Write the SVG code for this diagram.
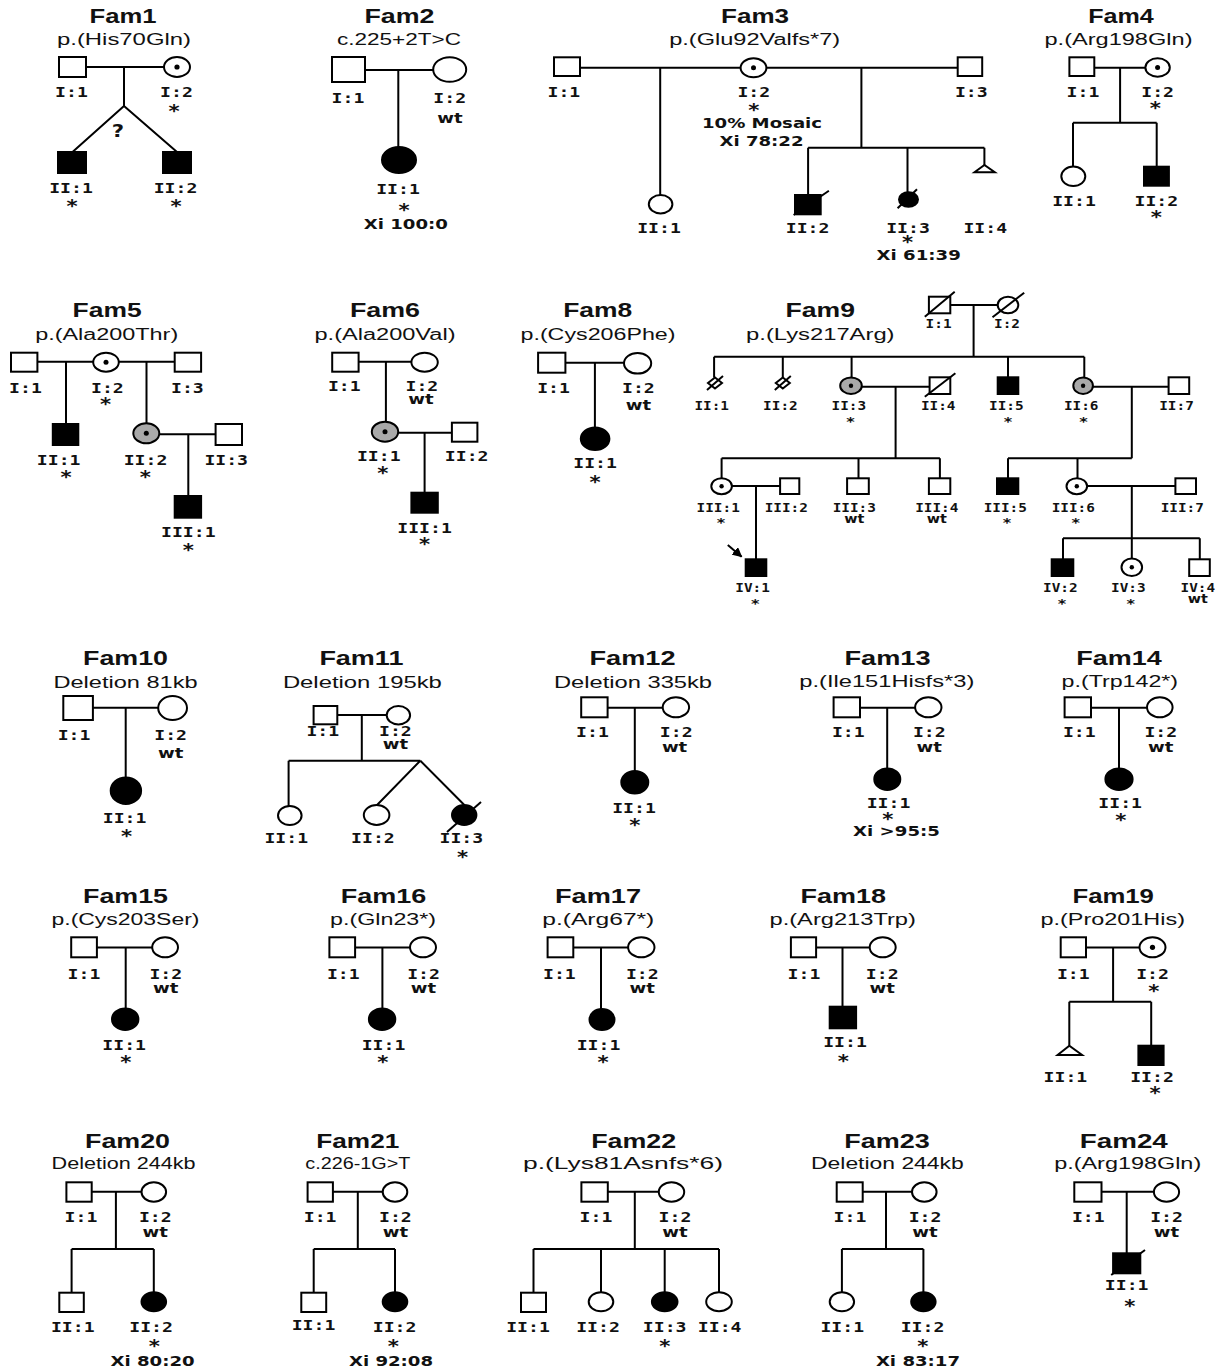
<svg xmlns="http://www.w3.org/2000/svg" width="1229" height="1369" viewBox="0 0 1229 1369">
<style>
.ln{stroke:#000;stroke-width:2;fill:none}
.o{fill:#fff;stroke:#000;stroke-width:2}
.f{fill:#000;stroke:#000;stroke-width:2}
.g{fill:#a9a9a9;stroke:#000;stroke-width:2}
.d{fill:#000}
.ttl{font-family:"Liberation Sans",Arial,sans-serif;font-weight:bold;font-size:20px;text-anchor:middle;fill:#111}
.mut{font-family:"Liberation Sans",Arial,sans-serif;font-size:16px;text-anchor:middle;fill:#111}
.id{font-family:"DejaVu Sans Mono",monospace;font-weight:bold;font-size:14.5px;text-anchor:middle;fill:#111}
.nt{font-family:"DejaVu Sans",sans-serif;font-weight:bold;font-size:14.5px;text-anchor:middle;fill:#111}
.sm{font-size:11.5px}
.st{font-size:17px}
.st.sm{font-size:13px}
.q{font-size:17px}
.id,.nt{transform-box:fill-box;transform-origin:50% 50%;transform:scaleX(1.25)}
</style>
<defs>
<marker id="ah" viewBox="0 0 10 10" refX="9" refY="5" markerWidth="5" markerHeight="5" orient="auto"><path d="M0,0L10,5L0,10z" fill="#000"/></marker>
</defs>
<rect width="1229" height="1369" fill="#fff"/>

<g id="connectors" class="ln">
<path d="M86,67H164M124,67V106M124,106L72.5,152M124,106L177,152"/>
<path d="M365,70H433M398.3,70V147"/>
<path d="M580,67.7H740.6M766.4,67.7H957.7M660.2,67.7V195M861.4,67.7V147.7M808.1,147.7H984.4M808.1,147.7V195M907.5,147.7V192.3M984.4,147.7V165"/>
<path d="M1094.3,67.7H1145.4M1120.1,67.7V122.7M1073,122.7H1156.7M1073,122.7V166.7M1156.7,122.7V166.7"/>
<path d="M37.4,361.7H93.3M118.8,361.7H174.7M66,361.7V424M146.5,361.7V423.3M159.3,434.3H215.6M188.3,434.3V496"/>
<path d="M358.6,361.7H411.4M385.9,361.7V421.7M398.2,432.7H451.9M424.6,432.7V492.7"/>
<path d="M565.4,362.7H623.9M594.9,362.7V427.3"/>
<path d="M950.3,305H997.7M973.6,305V356.7M714.1,356.7H1084.3M714.1,356.7V377.5M782.8,356.7V377.5M851.6,356.7V377.4M1008,356.7V377.3M1084.3,356.7V377.4M861.9,386.7H929.6M895.6,386.7V458.3M721.6,458.3H939.9M721.6,458.3V478.2M858.5,458.3V478.3M939.9,458.3V478.3M731.9,486H780.1M756,486V559.3M1092.9,386.7H1168.6M1131.8,386.7V458.3M1008,458.3H1131.8M1008,458.3V478.3M1077.5,458.3V478.2M1087.1,486H1175.4M1131.8,486V558.3M1063,538.3H1199.8M1063,538.3V559.3M1199.8,538.3V559.3"/>
<line x1="727.8" y1="545" x2="741.6" y2="556.7" marker-end="url(#ah)"/>
<path d="M92.9,707.7H158.2M125.7,707.7V777.3"/>
<path d="M337.3,715H386.7M361.8,715V760.7M288.6,760.7H420.3M288.6,760.7V806M420.3,760.7L376.8,805.2M420.3,760.7L464.6,805.2"/>
<path d="M607.6,707.7H662.7M634.8,707.7V771"/>
<path d="M860,707.7H915.1M887.2,707.7V768.3"/>
<path d="M1091,707.7H1146.9M1119,707.7V768.3"/>
<path d="M96.9,947.5H152.2M125.7,947.5V1008.3"/>
<path d="M355.1,947.5H410M382.4,947.5V1008.3"/>
<path d="M573.3,947.5H628.1M601,947.5V1009"/>
<path d="M816.1,947.5H869.7M842.5,947.5V1006.7"/>
<path d="M1086,947.5H1139.5M1113.1,947.5V1001.7M1069.3,1001.7H1151.2M1069.3,1001.7V1045.7M1151.2,1001.7V1045.7"/>
<path d="M91.7,1191.7H141.6M115.9,1191.7V1249M71.6,1249H153.8M71.6,1249V1292.7M153.8,1249V1292.2"/>
<path d="M332.9,1191.7H382.7M357.8,1191.7V1249M313.7,1249H395M313.7,1249V1292.7M395,1249V1292.2"/>
<path d="M607.8,1191.7H658.8M634.8,1191.7V1249M533.5,1249H719M533.5,1249V1292.7M601,1249V1292.2M664.7,1249V1292.2M719,1249V1292.2"/>
<path d="M862.7,1191.7H912M886,1191.7V1249M841.9,1249H923.4M841.9,1249V1292.2M923.4,1249V1292.2"/>
<path d="M1101.5,1191.7H1153.9M1126.7,1191.7V1253.3"/>
</g>

<g id="fam1">
<text class="ttl" x="123" y="23.3" textLength="67" lengthAdjust="spacingAndGlyphs">Fam1</text>
<text class="mut" x="124" y="44.5" textLength="134" lengthAdjust="spacingAndGlyphs">p.(His70Gln)</text>
<text class="nt q" x="118" y="137">?</text>
</g>
<g id="fam1-I1"><rect class="o" x="59" y="57" width="27" height="20"/><text class="id" x="71.5" y="97">I:1</text></g>
<g id="fam1-I2"><ellipse class="o" cx="177" cy="67" rx="13" ry="10"/><circle class="d" cx="177" cy="67" r="2.6"/><text class="id" x="176.5" y="97">I:2</text><text class="nt st" x="174" y="117">*</text></g>
<g id="fam1-II1"><rect class="f" x="58" y="152" width="28" height="21"/><text class="id" x="71" y="193">II:1</text><text class="nt st" x="72" y="212">*</text></g>
<g id="fam1-II2"><rect class="f" x="163" y="152" width="28" height="21"/><text class="id" x="175.5" y="193">II:2</text><text class="nt st" x="176" y="212">*</text></g>

<g id="fam2">
<text class="ttl" x="399.5" y="23.3" textLength="70" lengthAdjust="spacingAndGlyphs">Fam2</text>
<text class="mut" x="399" y="44.5" textLength="124" lengthAdjust="spacingAndGlyphs">c.225+2T&gt;C</text>
</g>
<g id="fam2-I1"><rect class="o" x="332" y="57" width="33" height="25"/><text class="id" x="348" y="102.7">I:1</text></g>
<g id="fam2-I2"><ellipse class="o" cx="449.7" cy="69.5" rx="16.5" ry="12.3"/><text class="id" x="449.7" y="102.7">I:2</text><text class="nt" x="450" y="123.3">wt</text></g>
<g id="fam2-II1"><ellipse class="f" cx="399" cy="160" rx="17" ry="13"/><text class="id" x="398" y="194">II:1</text><text class="nt st" x="404" y="216">*</text><text class="nt" x="405.8" y="229">Xi 100:0</text></g>

<g id="fam3">
<text class="ttl" x="755" y="23.3" textLength="68" lengthAdjust="spacingAndGlyphs">Fam3</text>
<text class="mut" x="754.7" y="44.5" textLength="171" lengthAdjust="spacingAndGlyphs">p.(Glu92Valfs*7)</text>
</g>
<g id="fam3-I1"><rect class="o" x="554" y="57.3" width="26" height="18.7"/><text class="id" x="563.9" y="96.7">I:1</text></g>
<g id="fam3-I2"><ellipse class="o" cx="753.5" cy="67.8" rx="12.9" ry="9.5"/><circle class="d" cx="753.5" cy="67.8" r="2.5"/><text class="id" x="753.8" y="96.7">I:2</text><text class="nt st" x="753.8" y="116.5">*</text><text class="nt" x="762" y="128.5">10% Mosaic</text><text class="nt" x="761.5" y="146.5">Xi 78:22</text></g>
<g id="fam3-I3"><rect class="o" x="957.7" y="57.3" width="24.5" height="18.7"/><text class="id" x="971.3" y="96.7">I:3</text></g>
<g id="fam3-II1"><ellipse class="o" cx="660.6" cy="204.2" rx="11.8" ry="9.2"/><text class="id" x="659" y="233.3">II:1</text></g>
<g id="fam3-II2"><rect class="f" x="795" y="195" width="25.7" height="19.3"/><line class="ln" x1="793.6" y1="215" x2="828.9" y2="190.7"/><text class="id" x="807.6" y="233.3">II:2</text></g>
<g id="fam3-II3"><ellipse class="f" cx="908.5" cy="199.5" rx="9.5" ry="7.2"/><line class="ln" x1="897.6" y1="208.3" x2="917" y2="189.3"/><text class="id" x="908" y="233.3">II:3</text><text class="nt st" x="907.5" y="248.5">*</text><text class="nt" x="918.7" y="260.5">Xi 61:39</text></g>
<g id="fam3-II4"><polygon class="o" points="984.4,165 974.5,172.3 994.8,172.3"/><text class="id" x="985.3" y="233.3">II:4</text></g>

<g id="fam4">
<text class="ttl" x="1121" y="23.3" textLength="65.5" lengthAdjust="spacingAndGlyphs">Fam4</text>
<text class="mut" x="1118.5" y="44.5" textLength="148" lengthAdjust="spacingAndGlyphs">p.(Arg198Gln)</text>
</g>
<g id="fam4-I1"><rect class="o" x="1069.4" y="57.3" width="24.9" height="18.7"/><text class="id" x="1083" y="96.7">I:1</text></g>
<g id="fam4-I2"><ellipse class="o" cx="1157.6" cy="67.5" rx="12.2" ry="9.2"/><circle class="d" cx="1157.6" cy="67.5" r="2.5"/><text class="id" x="1157.6" y="96.7">I:2</text><text class="nt st" x="1155.3" y="114">*</text></g>
<g id="fam4-II1"><ellipse class="o" cx="1073.3" cy="176.3" rx="12" ry="9.7"/><text class="id" x="1074" y="206">II:1</text></g>
<g id="fam4-II2"><rect class="f" x="1144" y="166.7" width="24.9" height="19"/><text class="id" x="1156.3" y="206">II:2</text><text class="nt st" x="1156.3" y="223">*</text></g>

<g id="fam5">
<text class="ttl" x="107.1" y="317.3" textLength="69" lengthAdjust="spacingAndGlyphs">Fam5</text>
<text class="mut" x="106.7" y="340" textLength="143" lengthAdjust="spacingAndGlyphs">p.(Ala200Thr)</text>
</g>
<g id="fam5-I1"><rect class="o" x="11" y="352.7" width="26.4" height="19"/><text class="id" x="25.5" y="392.7">I:1</text></g>
<g id="fam5-I2"><ellipse class="o" cx="106" cy="362.2" rx="12.8" ry="9.5"/><circle class="d" cx="106" cy="362.2" r="2.5"/><text class="id" x="107.4" y="392.7">I:2</text><text class="nt st" x="105.6" y="410">*</text></g>
<g id="fam5-I3"><rect class="o" x="174.7" y="352.7" width="26.4" height="19"/><text class="id" x="187.4" y="392.7">I:3</text></g>
<g id="fam5-II1"><rect class="f" x="52.8" y="424" width="25.5" height="21"/><text class="id" x="58.7" y="465">II:1</text><text class="nt st" x="66" y="483">*</text></g>
<g id="fam5-II2"><ellipse class="g" cx="146.3" cy="433.3" rx="13" ry="10"/><circle class="d" cx="146.3" cy="433.3" r="2.5"/><text class="id" x="145.5" y="465">II:2</text><text class="nt st" x="145.2" y="483">*</text></g>
<g id="fam5-II3"><rect class="o" x="215.6" y="424" width="26.4" height="21"/><text class="id" x="226.2" y="465">II:3</text></g>
<g id="fam5-III1"><rect class="f" x="174.7" y="496" width="26.4" height="21.7"/><text class="id" x="188.3" y="537.3">III:1</text><text class="nt st" x="188.3" y="556">*</text></g>

<g id="fam6">
<text class="ttl" x="385" y="317.3" textLength="70" lengthAdjust="spacingAndGlyphs">Fam6</text>
<text class="mut" x="385" y="340" textLength="141" lengthAdjust="spacingAndGlyphs">p.(Ala200Val)</text>
</g>
<g id="fam6-I1"><rect class="o" x="332.2" y="352.7" width="26.4" height="19"/><text class="id" x="344.3" y="391">I:1</text></g>
<g id="fam6-I2"><ellipse class="o" cx="424.6" cy="362.2" rx="13.2" ry="9.5"/><text class="id" x="421.9" y="391">I:2</text><text class="nt" x="421.1" y="404.5">wt</text></g>
<g id="fam6-II1"><ellipse class="g" cx="385" cy="431.7" rx="13.2" ry="10"/><circle class="d" cx="385" cy="431.7" r="2.5"/><text class="id" x="378.8" y="460.7">II:1</text><text class="nt st" x="382.8" y="479">*</text></g>
<g id="fam6-II2"><rect class="o" x="451.9" y="422.7" width="25.5" height="19"/><text class="id" x="466.7" y="460.7">II:2</text></g>
<g id="fam6-III1"><rect class="f" x="411.4" y="492.7" width="26.4" height="20"/><text class="id" x="424.6" y="532.7">III:1</text><text class="nt st" x="424.6" y="550">*</text></g>

<g id="fam8">
<text class="ttl" x="597.7" y="317.3" textLength="69" lengthAdjust="spacingAndGlyphs">Fam8</text>
<text class="mut" x="598" y="340" textLength="155" lengthAdjust="spacingAndGlyphs">p.(Cys206Phe)</text>
</g>
<g id="fam8-I1"><rect class="o" x="538.1" y="352.7" width="27.3" height="20"/><text class="id" x="553.6" y="393.3">I:1</text></g>
<g id="fam8-I2"><ellipse class="o" cx="637.6" cy="363.3" rx="13.6" ry="10.3"/><text class="id" x="638.4" y="393.3">I:2</text><text class="nt" x="638.4" y="410">wt</text></g>
<g id="fam8-II1"><ellipse class="f" cx="595.1" cy="438.7" rx="14.3" ry="11.3"/><text class="id" x="595.1" y="468.3">II:1</text><text class="nt st" x="595.1" y="488">*</text></g>

<g id="fam9">
<text class="ttl" x="820.3" y="316.7" textLength="69.4" lengthAdjust="spacingAndGlyphs">Fam9</text>
<text class="mut" x="820.3" y="340" textLength="148.5" lengthAdjust="spacingAndGlyphs">p.(Lys217Arg)</text>
</g>
<g id="fam9-I1"><rect class="o" x="928.9" y="296.7" width="21.4" height="16.6"/><line class="ln" x1="924.8" y1="316.7" x2="954.7" y2="291.7"/><text class="id sm" x="938.6" y="328.3">I:1</text></g>
<g id="fam9-I2"><ellipse class="o" cx="1008" cy="305" rx="10.3" ry="8.3"/><line class="ln" x1="992.5" y1="317.3" x2="1024.2" y2="292.7"/><text class="id sm" x="1007" y="328.3">I:2</text></g>
<g id="fam9-II1"><polygon class="o" points="715,377.5 722,383 715,388.5 708,383"/><line class="ln" x1="707" y1="390" x2="723" y2="376"/><text class="id sm" x="711.7" y="410">II:1</text></g>
<g id="fam9-II2"><polygon class="o" points="782.8,377.5 789.8,383 782.8,388.5 775.8,383"/><line class="ln" x1="774.8" y1="390" x2="790.8" y2="376"/><text class="id sm" x="780.4" y="410">II:2</text></g>
<g id="fam9-II3"><ellipse class="g" cx="851" cy="385.7" rx="10.8" ry="8.3"/><circle class="d" cx="851" cy="385.7" r="2.2"/><text class="id sm" x="848.8" y="410">II:3</text><text class="nt sm st" x="850.5" y="426">*</text></g>
<g id="fam9-II4"><rect class="o" x="929.6" y="377.3" width="20.7" height="16.7"/><line class="ln" x1="924.8" y1="396.7" x2="955.4" y2="373.3"/><text class="id sm" x="938.2" y="410">II:4</text></g>
<g id="fam9-II5"><rect class="f" x="997.7" y="377.3" width="20.6" height="16.7"/><text class="id sm" x="1006.3" y="410">II:5</text><text class="nt sm st" x="1008" y="426">*</text></g>
<g id="fam9-II6"><ellipse class="g" cx="1083.1" cy="385.7" rx="9.8" ry="8.3"/><circle class="d" cx="1083.1" cy="385.7" r="2.2"/><text class="id sm" x="1081.2" y="410">II:6</text><text class="nt sm st" x="1083.6" y="426">*</text></g>
<g id="fam9-II7"><rect class="o" x="1168.6" y="377.3" width="20.6" height="16.7"/><text class="id sm" x="1176.5" y="410">II:7</text></g>
<g id="fam9-III1"><ellipse class="o" cx="721.6" cy="486.2" rx="10.3" ry="8"/><circle class="d" cx="721.6" cy="486.2" r="2.2"/><text class="id sm" x="718.2" y="511.7">III:1</text><text class="nt sm st" x="721" y="527">*</text></g>
<g id="fam9-III2"><rect class="o" x="780.1" y="478.3" width="19.2" height="15.7"/><text class="id sm" x="786.3" y="511.7">III:2</text></g>
<g id="fam9-III3"><rect class="o" x="847.1" y="478.3" width="21.7" height="15.7"/><text class="id sm" x="854.3" y="511.7">III:3</text><text class="nt sm" x="854.3" y="523.3">wt</text></g>
<g id="fam9-III4"><rect class="o" x="928.9" y="478.3" width="21.4" height="15.7"/><text class="id sm" x="936.8" y="511.7">III:4</text><text class="nt sm" x="936.8" y="523.3">wt</text></g>
<g id="fam9-III5"><rect class="f" x="997" y="478.3" width="21.3" height="15.7"/><text class="id sm" x="1005.3" y="511.7">III:5</text><text class="nt sm st" x="1007" y="527">*</text></g>
<g id="fam9-III6"><ellipse class="o" cx="1076.8" cy="486.2" rx="10.3" ry="8"/><circle class="d" cx="1076.8" cy="486.2" r="2.2"/><text class="id sm" x="1073.3" y="511.7">III:6</text><text class="nt sm st" x="1075.7" y="527">*</text></g>
<g id="fam9-III7"><rect class="o" x="1175.4" y="478.3" width="20.6" height="15.7"/><text class="id sm" x="1182.3" y="511.7">III:7</text></g>
<g id="fam9-IV1"><rect class="f" x="745.7" y="559.3" width="20.6" height="16.7"/><text class="id sm" x="752.6" y="591.7">IV:1</text><text class="nt sm st" x="755.3" y="608">*</text></g>
<g id="fam9-IV2"><rect class="f" x="1051.7" y="559.3" width="21.6" height="16.7"/><text class="id sm" x="1060.3" y="591.7">IV:2</text><text class="nt sm st" x="1062" y="608">*</text></g>
<g id="fam9-IV3"><ellipse class="o" cx="1131.8" cy="567.2" rx="10.3" ry="8.8"/><circle class="d" cx="1131.8" cy="567.2" r="2.2"/><text class="id sm" x="1128.3" y="591.7">IV:3</text><text class="nt sm st" x="1130.7" y="608">*</text></g>
<g id="fam9-IV4"><rect class="o" x="1189.2" y="559.3" width="20.6" height="16.7"/><text class="id sm" x="1197.8" y="591.7">IV:4</text><text class="nt sm" x="1197.8" y="603.3">wt</text></g>

<g id="fam10">
<text class="ttl" x="125.5" y="665" textLength="85" lengthAdjust="spacingAndGlyphs">Fam10</text>
<text class="mut" x="125.5" y="687.7" textLength="144" lengthAdjust="spacingAndGlyphs">Deletion 81kb</text>
</g>
<g id="fam10-I1"><rect class="o" x="63.3" y="696" width="29.6" height="24"/><text class="id" x="74.1" y="740">I:1</text></g>
<g id="fam10-I2"><ellipse class="o" cx="172.6" cy="708" rx="14.4" ry="12"/><text class="id" x="170.6" y="740">I:2</text><text class="nt" x="170.8" y="758.3">wt</text></g>
<g id="fam10-II1"><ellipse class="f" cx="125.9" cy="790.7" rx="15.2" ry="13.3"/><text class="id" x="124.6" y="823.3">II:1</text><text class="nt st" x="126.5" y="842">*</text></g>

<g id="fam11">
<text class="ttl" x="361.4" y="665" textLength="84" lengthAdjust="spacingAndGlyphs">Fam11</text>
<text class="mut" x="362.4" y="687.7" textLength="159" lengthAdjust="spacingAndGlyphs">Deletion 195kb</text>
</g>
<g id="fam11-I1"><rect class="o" x="313.6" y="706" width="23.7" height="18.3"/><text class="id" x="322.8" y="736">I:1</text></g>
<g id="fam11-I2"><ellipse class="o" cx="398.4" cy="715.2" rx="11.7" ry="9.2"/><text class="id" x="395.4" y="736">I:2</text><text class="nt" x="395.4" y="749">wt</text></g>
<g id="fam11-II1"><ellipse class="o" cx="289.8" cy="815.5" rx="11.8" ry="9.5"/><text class="id" x="286.3" y="843.3">II:1</text></g>
<g id="fam11-II2"><ellipse class="o" cx="376.6" cy="815" rx="12.8" ry="10"/><text class="id" x="372.9" y="843.3">II:2</text></g>
<g id="fam11-II3"><ellipse class="f" cx="464.2" cy="815" rx="12.2" ry="10"/><line class="ln" x1="447" y1="832" x2="481" y2="802"/><text class="id" x="461.3" y="843.3">II:3</text><text class="nt st" x="462.6" y="863">*</text></g>

<g id="fam12">
<text class="ttl" x="632.5" y="665" textLength="86" lengthAdjust="spacingAndGlyphs">Fam12</text>
<text class="mut" x="633" y="687.7" textLength="158" lengthAdjust="spacingAndGlyphs">Deletion 335kb</text>
</g>
<g id="fam12-I1"><rect class="o" x="581.2" y="697.3" width="26.4" height="20"/><text class="id" x="592.5" y="736.7">I:1</text></g>
<g id="fam12-I2"><ellipse class="o" cx="675.9" cy="707.3" rx="13.2" ry="10"/><text class="id" x="676.2" y="736.7">I:2</text><text class="nt" x="674.6" y="751.7">wt</text></g>
<g id="fam12-II1"><ellipse class="f" cx="634.8" cy="782.2" rx="13.5" ry="11.2"/><text class="id" x="634" y="813.3">II:1</text><text class="nt st" x="634.8" y="831">*</text></g>

<g id="fam13">
<text class="ttl" x="887.5" y="665" textLength="86" lengthAdjust="spacingAndGlyphs">Fam13</text>
<text class="mut" x="886.8" y="686.7" textLength="175" lengthAdjust="spacingAndGlyphs">p.(Ile151Hisfs*3)</text>
</g>
<g id="fam13-I1"><rect class="o" x="833.6" y="697.3" width="26.4" height="20"/><text class="id" x="848.3" y="736.7">I:1</text></g>
<g id="fam13-I2"><ellipse class="o" cx="928.3" cy="707.3" rx="13.2" ry="10"/><text class="id" x="929.3" y="736.7">I:2</text><text class="nt" x="929.3" y="751.7">wt</text></g>
<g id="fam13-II1"><ellipse class="f" cx="887.3" cy="779.2" rx="13" ry="10.8"/><text class="id" x="888.5" y="808.3">II:1</text><text class="nt st" x="887.9" y="825">*</text><text class="nt" x="896.5" y="836">Xi &gt;95:5</text></g>

<g id="fam14">
<text class="ttl" x="1119" y="665" textLength="85.4" lengthAdjust="spacingAndGlyphs">Fam14</text>
<text class="mut" x="1119.8" y="686.7" textLength="116.5" lengthAdjust="spacingAndGlyphs">p.(Trp142*)</text>
</g>
<g id="fam14-I1"><rect class="o" x="1064.6" y="697.3" width="26.4" height="20"/><text class="id" x="1079.3" y="736.7">I:1</text></g>
<g id="fam14-I2"><ellipse class="o" cx="1159.8" cy="707.3" rx="12.8" ry="10"/><text class="id" x="1160.8" y="736.7">I:2</text><text class="nt" x="1160.8" y="751.7">wt</text></g>
<g id="fam14-II1"><ellipse class="f" cx="1119" cy="779.2" rx="13.6" ry="10.8"/><text class="id" x="1120.2" y="808.3">II:1</text><text class="nt st" x="1120.9" y="826">*</text></g>

<g id="fam15">
<text class="ttl" x="125.5" y="903.3" textLength="85" lengthAdjust="spacingAndGlyphs">Fam15</text>
<text class="mut" x="125.5" y="925" textLength="148" lengthAdjust="spacingAndGlyphs">p.(Cys203Ser)</text>
</g>
<g id="fam15-I1"><rect class="o" x="71.2" y="937.3" width="25.7" height="20"/><text class="id" x="84" y="979.3">I:1</text></g>
<g id="fam15-I2"><ellipse class="o" cx="165.1" cy="947.3" rx="12.9" ry="10"/><text class="id" x="165.8" y="979.3">I:2</text><text class="nt" x="165.8" y="993.3">wt</text></g>
<g id="fam15-II1"><ellipse class="f" cx="125.2" cy="1019.2" rx="13.2" ry="10.8"/><text class="id" x="124.2" y="1050">II:1</text><text class="nt st" x="125.7" y="1068">*</text></g>

<g id="fam16">
<text class="ttl" x="383.5" y="903.3" textLength="85.5" lengthAdjust="spacingAndGlyphs">Fam16</text>
<text class="mut" x="383.1" y="925" textLength="106" lengthAdjust="spacingAndGlyphs">p.(Gln23*)</text>
</g>
<g id="fam16-I1"><rect class="o" x="329.4" y="937.3" width="25.7" height="20"/><text class="id" x="343.3" y="979.3">I:1</text></g>
<g id="fam16-I2"><ellipse class="o" cx="423" cy="947.3" rx="13" ry="10"/><text class="id" x="423.5" y="979.3">I:2</text><text class="nt" x="423.5" y="993.3">wt</text></g>
<g id="fam16-II1"><ellipse class="f" cx="382.1" cy="1019.2" rx="13.2" ry="10.8"/><text class="id" x="383.5" y="1050">II:1</text><text class="nt st" x="382.7" y="1068">*</text></g>

<g id="fam17">
<text class="ttl" x="598" y="903.3" textLength="86" lengthAdjust="spacingAndGlyphs">Fam17</text>
<text class="mut" x="598.3" y="925" textLength="112" lengthAdjust="spacingAndGlyphs">p.(Arg67*)</text>
</g>
<g id="fam17-I1"><rect class="o" x="547.6" y="937.3" width="25.7" height="20"/><text class="id" x="559.4" y="979.3">I:1</text></g>
<g id="fam17-I2"><ellipse class="o" cx="641.3" cy="947.3" rx="13.2" ry="10"/><text class="id" x="642.3" y="979.3">I:2</text><text class="nt" x="642.3" y="993.3">wt</text></g>
<g id="fam17-II1"><ellipse class="f" cx="602" cy="1019.5" rx="12.5" ry="10.5"/><text class="id" x="598.5" y="1050">II:1</text><text class="nt st" x="603" y="1068">*</text></g>

<g id="fam18">
<text class="ttl" x="843.3" y="903.3" textLength="85.4" lengthAdjust="spacingAndGlyphs">Fam18</text>
<text class="mut" x="842.7" y="925" textLength="146.4" lengthAdjust="spacingAndGlyphs">p.(Arg213Trp)</text>
</g>
<g id="fam18-I1"><rect class="o" x="790.9" y="937.3" width="25.2" height="20"/><text class="id" x="804" y="979.3">I:1</text></g>
<g id="fam18-I2"><ellipse class="o" cx="882.7" cy="947.3" rx="13" ry="10"/><text class="id" x="882.2" y="979.3">I:2</text><text class="nt" x="882.2" y="993.3">wt</text></g>
<g id="fam18-II1"><rect class="f" x="829.7" y="1006.7" width="26.4" height="21.6"/><text class="id" x="845" y="1046.7">II:1</text><text class="nt st" x="843.3" y="1067">*</text></g>

<g id="fam19">
<text class="ttl" x="1113.2" y="903.3" textLength="81.5" lengthAdjust="spacingAndGlyphs">Fam19</text>
<text class="mut" x="1112.7" y="925" textLength="144.5" lengthAdjust="spacingAndGlyphs">p.(Pro201His)</text>
</g>
<g id="fam19-I1"><rect class="o" x="1060.7" y="937.3" width="25.3" height="20"/><text class="id" x="1073.3" y="979.3">I:1</text></g>
<g id="fam19-I2"><ellipse class="o" cx="1152.5" cy="947.3" rx="13" ry="10"/><circle class="d" cx="1152.5" cy="947.3" r="2.6"/><text class="id" x="1152.5" y="979.3">I:2</text><text class="nt st" x="1153.9" y="997.5">*</text></g>
<g id="fam19-II1"><polygon class="o" points="1069.3,1045.7 1057.6,1055 1082.1,1055"/><text class="id" x="1065.4" y="1081.7">II:1</text></g>
<g id="fam19-II2"><rect class="f" x="1138.4" y="1045.7" width="25.2" height="19.3"/><text class="id" x="1152" y="1081.7">II:2</text><text class="nt st" x="1155" y="1099">*</text></g>

<g id="fam20">
<text class="ttl" x="127.5" y="1148.3" textLength="85" lengthAdjust="spacingAndGlyphs">Fam20</text>
<text class="mut" x="123.6" y="1169" textLength="144" lengthAdjust="spacingAndGlyphs">Deletion 244kb</text>
</g>
<g id="fam20-I1"><rect class="o" x="66.4" y="1182.3" width="25.3" height="19.4"/><text class="id" x="81" y="1221.7">I:1</text></g>
<g id="fam20-I2"><ellipse class="o" cx="153.8" cy="1192" rx="12.3" ry="9.7"/><text class="id" x="155.3" y="1221.7">I:2</text><text class="nt" x="155.3" y="1236.7">wt</text></g>
<g id="fam20-II1"><rect class="o" x="59.3" y="1292.7" width="24.5" height="19.3"/><text class="id" x="72.8" y="1331.7">II:1</text></g>
<g id="fam20-II2"><ellipse class="f" cx="153.8" cy="1301.7" rx="12.3" ry="9.5"/><text class="id" x="151.1" y="1331.7">II:2</text><text class="nt st" x="154.2" y="1352">*</text><text class="nt" x="152.6" y="1365.7">Xi 80:20</text></g>

<g id="fam21">
<text class="ttl" x="357.8" y="1148.3" textLength="83" lengthAdjust="spacingAndGlyphs">Fam21</text>
<text class="mut" x="357.8" y="1169" textLength="105" lengthAdjust="spacingAndGlyphs">c.226-1G&gt;T</text>
</g>
<g id="fam21-I1"><rect class="o" x="307.6" y="1182.3" width="25.3" height="19.4"/><text class="id" x="320.2" y="1221.7">I:1</text></g>
<g id="fam21-I2"><ellipse class="o" cx="395" cy="1192" rx="12.3" ry="9.7"/><text class="id" x="395.4" y="1221.7">I:2</text><text class="nt" x="395.4" y="1236.7">wt</text></g>
<g id="fam21-II1"><rect class="o" x="301.3" y="1292.7" width="24.9" height="19.3"/><text class="id" x="313.5" y="1330">II:1</text></g>
<g id="fam21-II2"><ellipse class="f" cx="395" cy="1301.7" rx="12.3" ry="9.5"/><text class="id" x="394.6" y="1331.7">II:2</text><text class="nt st" x="393.4" y="1352">*</text><text class="nt" x="391" y="1365.7">Xi 92:08</text></g>

<g id="fam22">
<text class="ttl" x="633.7" y="1148.3" textLength="85" lengthAdjust="spacingAndGlyphs">Fam22</text>
<text class="mut" x="623" y="1169" textLength="200" lengthAdjust="spacingAndGlyphs">p.(Lys81Asnfs*6)</text>
</g>
<g id="fam22-I1"><rect class="o" x="581.4" y="1182.3" width="26.4" height="19.4"/><text class="id" x="596" y="1221.7">I:1</text></g>
<g id="fam22-I2"><ellipse class="o" cx="671.5" cy="1192" rx="12.7" ry="9.7"/><text class="id" x="675" y="1221.7">I:2</text><text class="nt" x="675" y="1236.7">wt</text></g>
<g id="fam22-II1"><rect class="o" x="521" y="1292.7" width="25" height="19.3"/><text class="id" x="528" y="1331.7">II:1</text></g>
<g id="fam22-II2"><ellipse class="o" cx="601" cy="1301.7" rx="12.3" ry="9.5"/><text class="id" x="598" y="1331.7">II:2</text></g>
<g id="fam22-II3"><ellipse class="f" cx="664.7" cy="1301.7" rx="12.8" ry="9.5"/><text class="id" x="664.7" y="1331.7">II:3</text><text class="nt st" x="664.7" y="1352">*</text></g>
<g id="fam22-II4"><ellipse class="o" cx="719" cy="1301.7" rx="12.8" ry="9.5"/><text class="id" x="719.7" y="1331.7">II:4</text></g>

<g id="fam23">
<text class="ttl" x="887.1" y="1148.3" textLength="85.5" lengthAdjust="spacingAndGlyphs">Fam23</text>
<text class="mut" x="887.4" y="1169" textLength="152.7" lengthAdjust="spacingAndGlyphs">Deletion 244kb</text>
</g>
<g id="fam23-I1"><rect class="o" x="836.7" y="1182.3" width="26" height="19.4"/><text class="id" x="850" y="1221.7">I:1</text></g>
<g id="fam23-I2"><ellipse class="o" cx="924.3" cy="1192" rx="12.3" ry="9.7"/><text class="id" x="925" y="1221.7">I:2</text><text class="nt" x="925" y="1236.7">wt</text></g>
<g id="fam23-II1"><ellipse class="o" cx="841.9" cy="1301.7" rx="12.2" ry="9.5"/><text class="id" x="842.3" y="1331.7">II:1</text></g>
<g id="fam23-II2"><ellipse class="f" cx="923.4" cy="1301.7" rx="12.2" ry="9.5"/><text class="id" x="922.5" y="1331.7">II:2</text><text class="nt st" x="922.9" y="1352">*</text><text class="nt" x="918" y="1365.7">Xi 83:17</text></g>

<g id="fam24">
<text class="ttl" x="1123.8" y="1148.3" textLength="88" lengthAdjust="spacingAndGlyphs">Fam24</text>
<text class="mut" x="1127.7" y="1169" textLength="147" lengthAdjust="spacingAndGlyphs">p.(Arg198Gln)</text>
</g>
<g id="fam24-I1"><rect class="o" x="1074.3" y="1182.3" width="27.2" height="19.4"/><text class="id" x="1088.3" y="1221.7">I:1</text></g>
<g id="fam24-I2"><ellipse class="o" cx="1166.5" cy="1192" rx="12.6" ry="9.7"/><text class="id" x="1166.5" y="1221.7">I:2</text><text class="nt" x="1166.5" y="1236.7">wt</text></g>
<g id="fam24-II1"><rect class="f" x="1113.1" y="1253.3" width="27.2" height="20"/><line class="ln" x1="1111.2" y1="1275" x2="1145" y2="1250"/><text class="id" x="1126.7" y="1290">II:1</text><text class="nt st" x="1129.8" y="1312">*</text></g>
</svg>
